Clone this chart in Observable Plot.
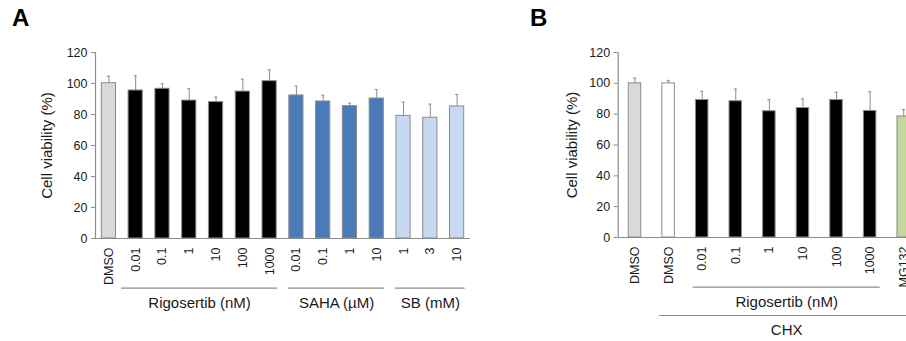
<!DOCTYPE html>
<html><head><meta charset="utf-8">
<script src="https://cdn.jsdelivr.net/npm/d3@7"></script>
<script src="https://cdn.jsdelivr.net/npm/@observablehq/plot@0.6"></script>
<style>
body{margin:0;background:#fff;}
#wrap{position:relative;width:906px;height:341px;overflow:hidden;font-family:"Liberation Sans",Arial,sans-serif;background:#fff;}
.panel{position:absolute;top:0;}
.panel svg{max-width:none !important;display:block;}
.letter{position:absolute;font-weight:bold;font-size:24px;line-height:24px;color:#000;}
</style></head><body>
<div id="wrap">
  <div id="pa" class="panel" style="left:0px;width:500px"></div>
  <div id="pb" class="panel" style="left:520px;width:420px"></div>
  <div class="letter" style="left:12px;top:6px">A</div>
  <div class="letter" style="left:530px;top:6px">B</div>
</div>
<script>
// ---------- Panel A data ----------
const catsA  = ["DMSO","0.01","0.1","1","10","100","1000","0.01","0.1","1","10","1","3","10"];
const groupA = ["DMSO","Rigosertib","Rigosertib","Rigosertib","Rigosertib","Rigosertib","Rigosertib","SAHA","SAHA","SAHA","SAHA","SB","SB","SB"];
const meanA  = [100.2, 95.5, 96.6, 89.0, 88.0, 94.8, 101.5, 92.3, 88.4, 85.4, 90.3, 79.1, 77.9, 85.2];
const errA   = [4.5, 9.5, 3.2, 7.6, 3.2, 8.0, 7.3, 6.0, 4.1, 1.9, 5.8, 8.9, 8.8, 7.7];
const bracketLabelsA = ["Rigosertib (nM)", "SAHA (\u00b5M)", "SB (mM)"];
const bracketFirstA  = [1, 7, 11];
const bracketLastA   = [6, 10, 13];

// ---------- Panel B data ----------
const catsB  = ["DMSO","DMSO","0.01","0.1","1","10","100","1000","MG132"];
const groupB = ["DMSO","DMSO_CHX","Rigosertib","Rigosertib","Rigosertib","Rigosertib","Rigosertib","Rigosertib","MG132"];
const meanB  = [100.0, 100.0, 89.2, 88.4, 81.9, 84.0, 89.2, 82.1, 78.5];
const errB   = [3.4, 1.9, 5.6, 7.9, 7.6, 5.9, 5.0, 12.5, 4.5];
const bracketLabelsB = ["Rigosertib (nM)", "CHX"];
const bracketFirstB  = [2, 1];
const bracketLastB   = [7, 8];
const bracketRowB    = [0, 1];

const yTicks = [0, 20, 40, 60, 80, 100, 120];
const yLabel = "Cell viability (%)";

// ---------- styling ----------
const fills = {DMSO:"#d9d9d9", DMSO_CHX:"#ffffff", Rigosertib:"#000000", SAHA:"#4a7ab8", SB:"#c6d9f1", MG132:"#c3d69b"};
const gray = "#8c8c8c";
const font = "Liberation Sans, Arial, sans-serif";

const rowsA = catsA.map((c, i) => ({i, g: groupA[i], v: meanA[i], e: errA[i]}));
const rowsB = catsB.map((c, i) => ({i, g: groupB[i], v: meanB[i], e: errB[i]}));

function makePlot(el, cats, rows, half, cap, brackets, layout) {
  const n = cats.length;
  const rowDy = [layout.bracketDy, layout.bracketDy + 28.3];
  const bracketMarksList = [];
  [0, 1].forEach(r => {
    const br = brackets.filter(b => b.row === r);
    if (!br.length) return;
    bracketMarksList.push(Plot.ruleY(br, {x1: "x1", x2: "x2", y: 0, dy: rowDy[r], stroke: gray, strokeWidth: 1.2}));
    bracketMarksList.push(Plot.text(br, {x: d => (d.x1 + d.x2) / 2, y: 0, dy: rowDy[r] + 15, text: "label", fontSize: 15, fill: "#1a1a1a", lineAnchor: "middle", textAnchor: "middle"}));
  });
  const chart = Plot.plot({
    width: layout.width, height: 341,
    marginTop: 52, marginBottom: layout.marginBottom, marginLeft: layout.marginLeft, marginRight: layout.marginRight,
    style: {fontFamily: font, fontSize: "12px", color: "#1a1a1a", background: "white", overflow: "visible"},
    x: {type: "linear", domain: [-0.5, n - 0.5]},
    y: {domain: [0, 120]},
    color: {type: "identity"},
    marks: [
      Plot.rectY(rows, {x1: d => d.i - half, x2: d => d.i + half, y1: 0, y2: "v",
        fill: d => fills[d.g], stroke: gray, strokeWidth: 1}),
      Plot.ruleX(rows, {x: "i", y1: "v", y2: d => d.v + d.e, stroke: gray, strokeWidth: 1}),
      Plot.ruleY(rows, {y: d => d.v + d.e, x1: d => d.i - cap, x2: d => d.i + cap, stroke: gray, strokeWidth: 1}),
      Plot.ruleY([0], {stroke: gray, strokeWidth: 1.2}),
      Plot.ruleX([-0.5], {y1: 0, y2: 120, stroke: gray, strokeWidth: 1.2}),
      Plot.axisY({ticks: yTicks, tickSize: 4, tickPadding: 4, label: null, stroke: gray, fill: "#1a1a1a", fontSize: 12.5}),
      Plot.axisX({ticks: d3.range(n), tickFormat: i => cats[i], tickRotate: -90, tickSize: 0, tickPadding: 9, label: null, fill: "#1a1a1a", fontSize: 12.5}),
      Plot.text([yLabel], {x: -0.5, y: 60, rotate: -90, dx: layout.yLabelDx, fontSize: 15, fill: "#1a1a1a", textAnchor: "middle", lineAnchor: "middle"}),
      ...bracketMarksList
    ]
  });
  el.appendChild(chart);
}

const bracketsA = bracketLabelsA.map((label, k) => ({
  label, row: 0,
  x1: bracketFirstA[k] - (k === 0 ? 0.53 : 0.3),
  x2: bracketLastA[k] + 0.3
}));
const bracketsB = bracketLabelsB.map((label, k) => ({
  label, row: bracketRowB[k],
  x1: bracketFirstB[k] - 0.27,
  x2: bracketLastB[k] + 0.3
}));

makePlot(document.getElementById("pa"), catsA, rowsA, 0.265, 0.055, bracketsA,
  {width: 500, marginLeft: 95, marginRight: 30, marginBottom: 103, bracketDy: 49.7, yLabelDx: -48});
makePlot(document.getElementById("pb"), catsB, rowsB, 0.186, 0.045, bracketsB,
  {width: 420, marginLeft: 97.7, marginRight: 20, marginBottom: 104, bracketDy: 49.7, yLabelDx: -45.7});
</script>
</body></html>
